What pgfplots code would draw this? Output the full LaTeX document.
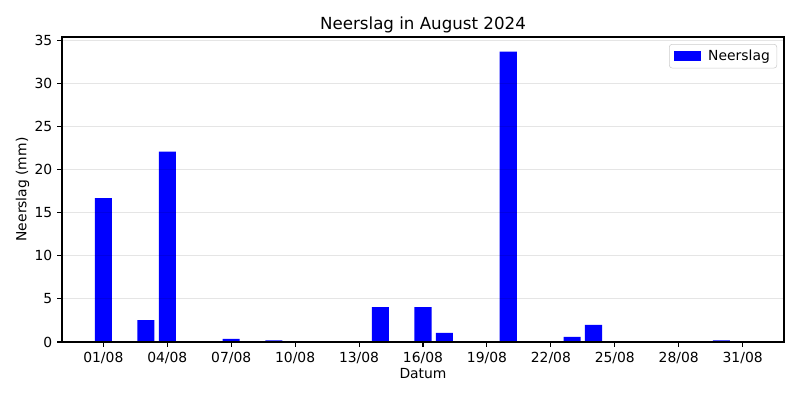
\documentclass[border=0pt]{standalone}
\usepackage{pgfplots}
\pgfplotsset{compat=1.18}
\usepackage{fontspec}
\setmainfont{DejaVu Sans}
\begin{document}
\begin{tikzpicture}[x=0.72pt,y=0.72pt]
\useasboundingbox (0,0) rectangle (800,400);
\begin{axis}[
  at={(62*0.72pt,58*0.72pt)}, anchor=south west,
  scale only axis,
  width=722*0.72pt, height=305*0.72pt,
  xmin=-0.94, xmax=32.94,
  ymin=0, ymax=35.39,
  xtick={1,4,7,10,13,16,19,22,25,28,31},
  xticklabels={01/08,04/08,07/08,10/08,13/08,16/08,19/08,22/08,25/08,28/08,31/08},
  ytick={0,5,10,15,20,25,30,35},
  /pgf/number format/assume math mode=true,
  tick align=outside, tick pos=left,
  major tick length=3.5pt,
  tick style={black, line width=0.8pt},
  axis line style={line width=0.8pt},
  ymajorgrids, grid style={black, opacity=0.1, line width=0.8pt},
  axis on top,
  font=\fontsize{10}{12}\selectfont,
  tick label style={font=\fontsize{10}{12}\selectfont},
  xlabel={Datum}, ylabel={Neerslag (mm)},
  xlabel style={yshift=3pt},
  ylabel style={yshift=-3pt},
  title={Neerslag in August 2024},
  title style={font=\fontsize{12}{14}\selectfont, yshift=-6.3pt},
  legend style={at={(0.9904,0.977)}, anchor=north east, draw=gray!40, rounded corners=2pt, font=\fontsize{10}{12}\selectfont, inner xsep=3pt, inner ysep=2pt},
  legend image code/.code={\fill[#1, sharp corners] (0pt,-3.5pt) rectangle (20pt,3.5pt); \path (23pt,0pt);},
]
\addplot[ybar, bar width=0.8, fill=blue, draw=none] coordinates {
 (1,16.7) (3,2.55) (4,22.1) (7,0.35) (9,0.2) (14,4.05) (16,4.05) (17,1.05) (20,33.7) (23,0.6) (24,2.0) (30,0.2)
};
\addlegendentry{Neerslag}
\end{axis}
\end{tikzpicture}
\end{document}
